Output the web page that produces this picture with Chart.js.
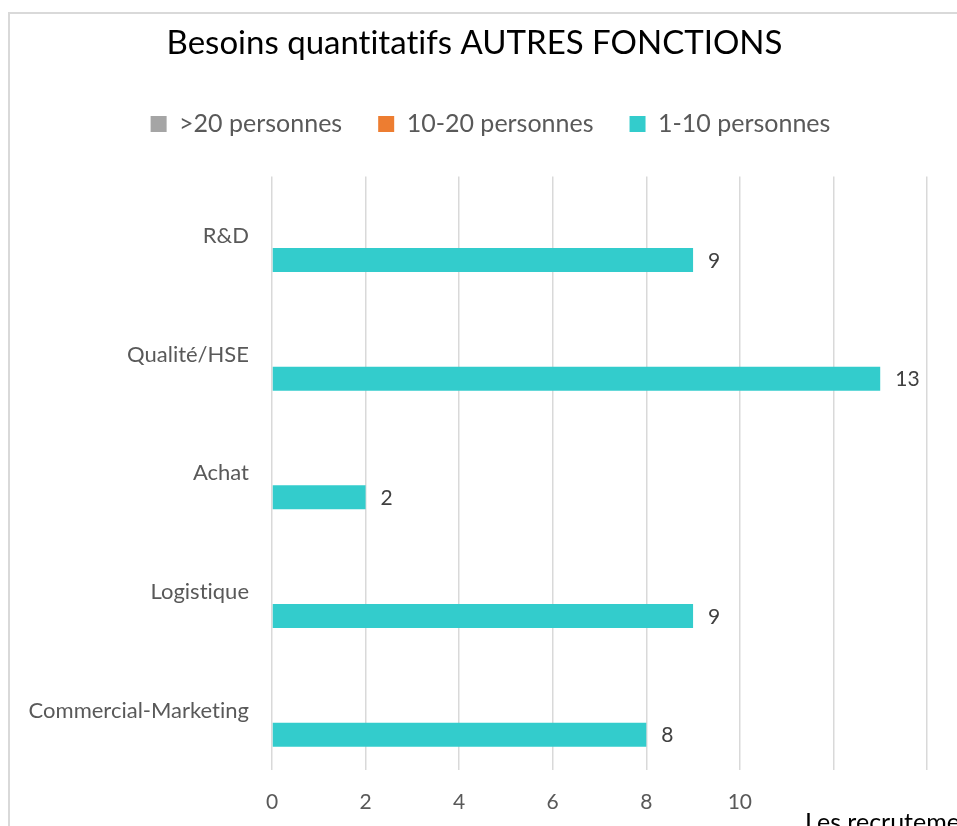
<!DOCTYPE html>
<html>
<head>
<meta charset="utf-8">
<script src="https://cdn.jsdelivr.net/npm/chart.js@4.4.0/dist/chart.umd.min.js"></script>
<style>
    html, body { margin: 0; padding: 0; background: #fff; overflow: hidden; }
    #frame { position: absolute; left: 8px; top: 12px; width: 1000px; height: 1000px; border: 2px solid #d9d9d9; box-sizing: border-box; }
    #chart { position: absolute; left: 0; top: 0; }
    #after { position: absolute; left: 805px; top: 806px; font-family: Lato, sans-serif; font-size: 25px; color: #000; white-space: nowrap; font-variant-ligatures: none; }
</style>
</head>
<body>
<div id="frame"></div>
<canvas id="chart" width="957" height="826"></canvas>
<div id="after">Les recrutements</div>
<script>
const FONT_FAMILY = 'Lato';
const categories = ['R&D', 'Qualité/HSE', 'Achat', 'Logistique', 'Commercial-Marketing'];
const plus20 = [0, 0, 0, 0, 0];
const de10a20 = [0, 0, 0, 0, 0];
const de1a10 = [9, 13, 2, 9, 8];
const xTicks = [0, 2, 4, 6, 8, 10];

// no "ti" ligatures from Lato
const noLigatures = {
    id: 'noLigatures',
    beforeDraw(chart) {
        chart.ctx.textRendering = 'optimizeSpeed';
    },
};

// value labels at the end of the teal bars
const barLabels = {
    id: 'barLabels',
    afterDatasetsDraw(chart) {
        const ctx = chart.ctx;
        const meta = chart.getDatasetMeta(2);
        ctx.save();
        ctx.font = '21px ' + FONT_FAMILY;
        ctx.fillStyle = '#404040';
        ctx.textAlign = 'left';
        ctx.textBaseline = 'middle';
        meta.data.forEach((bar, i) => {
            ctx.fillText(String(de1a10[i]), bar.x + 15, bar.y + 1);
        });
        ctx.restore();
    },
};

// extra room between legend and plot, legend nudged right like in Excel
const legendTweak = {
    id: 'legendTweak',
    beforeInit(chart) {
        const legend = chart.legend;
        const fit = legend.fit;
        const draw = legend.draw;
        legend.fit = function () {
            fit.call(this);
            this.height += 30;
        };
        legend.draw = function () {
            this.ctx.save();
            this.ctx.translate(16, 0);
            draw.call(this);
            this.ctx.restore();
        };
    },
};

const config = {
    type: 'bar',
    data: {
        labels: categories,
        datasets: [
            { label: '>20 personnes', data: plus20, backgroundColor: '#a5a5a5' },
            { label: '10-20 personnes', data: de10a20, backgroundColor: '#ed7d31' },
            { label: '1-10 personnes', data: de1a10, backgroundColor: '#33cccc' },
        ],
    },
    options: {
        indexAxis: 'y',
        responsive: false,
        animation: false,
        layout: { padding: { left: 22, right: 30, top: 0, bottom: 0 } },
        datasets: {
            bar: { barPercentage: 1, categoryPercentage: 0.607 },
        },
        scales: {
            x: {
                min: 0,
                max: 14,
                afterFit: (scale) => { scale.height = 56; },
                afterBuildTicks: (scale) => {
                    scale.ticks = [0, 2, 4, 6, 8, 10, 12, 14].map(v => ({ value: v }));
                },
                ticks: {
                    padding: 20,
                    color: '#595959',
                    font: { family: FONT_FAMILY, size: 21 },
                    callback: (v) => xTicks.includes(v) ? String(v) : '',
                },
                grid: { color: '#d9d9d9', lineWidth: 1.5, drawTicks: false },
                border: { display: false },
            },
            y: {
                afterFit: (scale) => { scale.width = 250; },
                ticks: {
                    padding: 23,
                    color: '#595959',
                    font: { family: FONT_FAMILY, size: 22 },
                },
                grid: { display: false, drawTicks: false },
                border: { display: false },
            },
        },
        plugins: {
            title: {
                display: true,
                text: 'Besoins quantitatifs AUTRES FONCTIONS',
                color: '#000',
                font: { family: FONT_FAMILY, size: 33, weight: 'normal' },
                padding: { top: 24, bottom: 12 },
            },
            legend: {
                position: 'top',
                labels: {
                    color: '#595959',
                    font: { family: FONT_FAMILY, size: 25 },
                    boxWidth: 16,
                    boxHeight: 16,
                    padding: 36,
                },
            },
            tooltip: { enabled: false },
        },
    },
    plugins: [noLigatures, barLabels, legendTweak],
};

window.chart1 = new Chart(document.getElementById('chart'), config);
</script>
</body>
</html>
